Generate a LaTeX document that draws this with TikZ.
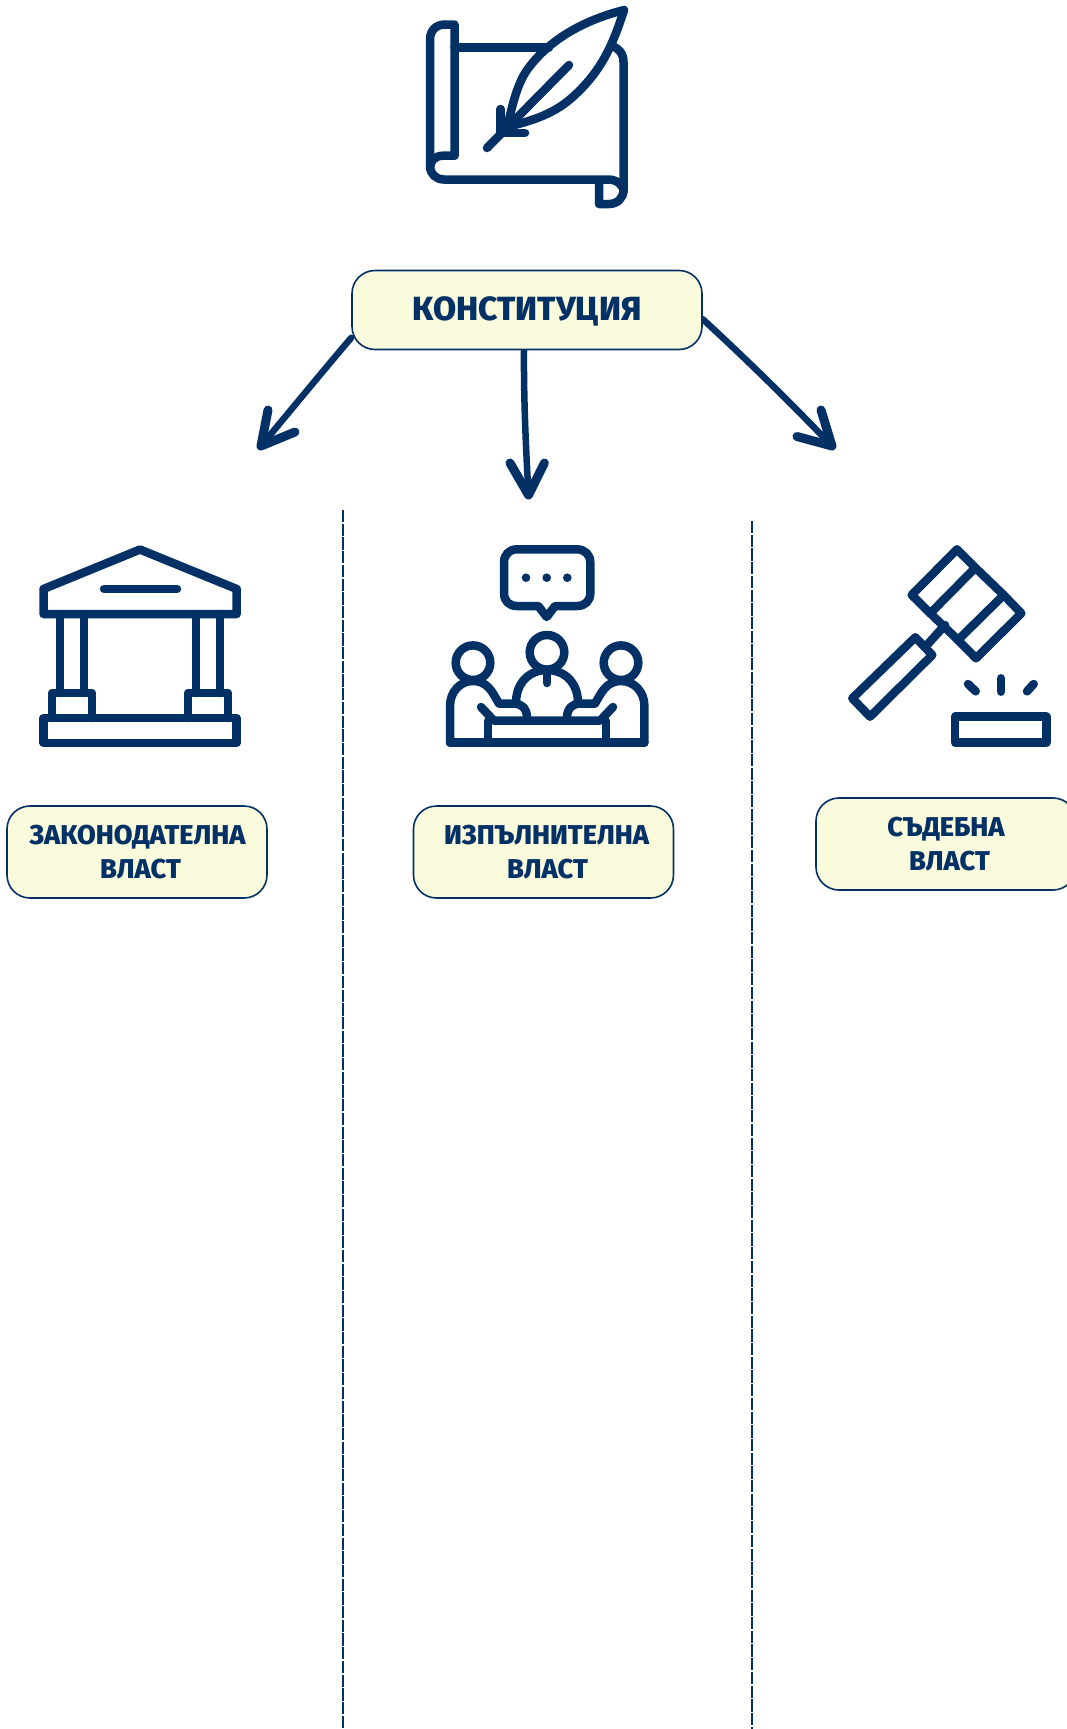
\documentclass[tikz,border=0pt]{standalone}
\usepackage{fontspec}
\usetikzlibrary{backgrounds}
\setmainfont{Fira Sans}[BoldFont={Fira Sans ExtraBold},Language=Bulgarian]
\definecolor{navy}{HTML}{033166}
\definecolor{cream}{HTML}{FAFADC}
\tikzset{
  icon/.style={draw=navy,line width=8.5pt,line cap=round,line join=round},
  labelbox/.style={draw=navy,line width=1.6pt,fill=cream,rounded corners=23pt,minimum width=260pt,minimum height=92pt,text=navy,font=\bfseries\fontsize{27.2}{34.5}\selectfont,align=center,inner sep=0pt},
  mainbox/.style={labelbox,minimum width=350pt,minimum height=79pt,font=\bfseries\fontsize{33.5}{34}\selectfont,text height=20pt,text depth=0pt},
  conn/.style={draw=navy,line width=6.5pt,line cap=round},
  head/.style={draw=navy,line width=9pt,line cap=round,line join=round},
  divider/.style={draw=navy,line width=1.8pt,dash pattern=on 12.3pt off 1.4pt}
}
\begin{document}
\begin{tikzpicture}[x=1pt,y=-1pt]
\useasboundingbox (0,0) rectangle (1066,1729);
% scroll
\draw[icon] (454.5,47.7) -- (549,47.7);
\draw[icon] (454.5,155.7) -- (454.5,24.5) -- (445,24.5) .. controls (436,24.5) and (430,30.5) .. (430,39.5) -- (430,166) .. controls (430,174) and (436,179.5) .. (444,179.5) -- (608,179.5) .. controls (616,179.5) and (623.5,184) .. (623.5,192);
\draw[icon] (454.5,155.7) -- (443,155.7) .. controls (435,155.7) and (430,161) .. (430,168);
\draw[icon] (612,46) .. controls (618,48) and (623.5,53) .. (623.5,62) -- (623.5,190) .. controls (623.5,198) and (617.5,204) .. (609,204) -- (599,204) -- (599,181);
% feather
\draw[icon] (624,10) .. controls (585,20) and (552,38) .. (530,66) .. controls (517,82) and (513,104) .. (507,127) .. controls (530,121) and (555,115) .. (577,93) .. controls (600,71) and (612,48) .. (624,10) -- cycle;
\draw[icon] (569,65) -- (487,148);
\draw[icon] (500.7,109) -- (500.7,133) -- (525,133);
% column building
\draw[icon] (43.5,614) -- (43.5,589) -- (140,549.5) -- (236.7,589) -- (236.7,614) -- cycle;
\draw[icon] (104,589) -- (177,589);
\draw[icon] (60,614) -- (60,693) (84,614) -- (84,693) (196,614) -- (196,693) (220,614) -- (220,693);
\draw[icon] (52,718) -- (52,693) -- (92,693) -- (92,718);
\draw[icon] (188,718) -- (188,693) -- (228,693) -- (228,718);
\draw[icon] (43.5,718) rectangle (236.7,743);
% meeting
\draw[icon] (517,549.3) -- (577,549.3) .. controls (585,549.3) and (590.3,555) .. (590.3,562.3) -- (590.3,593) .. controls (590.3,601) and (585,606) .. (577,606) -- (555,606) -- (546.7,617) -- (538.3,606) -- (517,606) .. controls (509,606) and (504,601) .. (504,593) -- (504,562.3) .. controls (504,555) and (509,549.3) .. (517,549.3) -- cycle;
\fill[navy] (526,577.7) circle (4.3) (546.7,577.7) circle (4.3) (567.3,577.7) circle (4.3);
\draw[icon] (547,652.3) circle (17.3) (473,662.7) circle (17.3) (621,662.7) circle (17.3);
\draw[icon] (450,742.7) -- (644.4,742.7);
\draw[icon] (450,742.7) -- (450,706) .. controls (450,692) and (460,681) .. (473,681) .. controls (484,681) and (490,688) .. (494,695) -- (499,703.5) -- (514,703.5) .. controls (521,703.5) and (527,708) .. (527,718);
\draw[icon] (644.4,742.7) -- (644.4,706) .. controls (644.4,692) and (634.4,681) .. (621,681) .. controls (610,681) and (604,688) .. (600,695) -- (595,703.5) -- (580,703.5) .. controls (573,703.5) and (567,708) .. (567,718);
\draw[icon] (516,703) .. controls (516,682) and (530,670) .. (547,670) .. controls (564,670) and (578,682) .. (578,703);
\draw[icon] (547,670) -- (547,683);
\draw[icon] (481,707) -- (494,720.7) -- (600,720.7) -- (613,707);
\draw[icon] (488,721) -- (488,742.7) (606,721) -- (606,742.7);
% gavel
\draw[icon] (957,549.3) -- (975.3,567.7) -- (930.3,613.3) -- (911.7,595) -- cycle;
\draw[icon] (1003.7,595) -- (1021.3,613.3) -- (976,658.3) -- (958,640) -- cycle;
\draw[icon] (975.3,567.7) -- (1003.7,595) (930.3,613.3) -- (958,640);
\draw[icon] (915.3,637.3) -- (932.3,655) -- (870,716.7) -- (852.3,698.3) -- cycle;
\draw[icon] (927,645) -- (945,625);
\draw[icon] (968,684) -- (975.7,691.3);
\draw[icon] (1001,678.3) -- (1001,691.7);
\draw[icon] (1033.7,684) -- (1027,691.3);
\draw[icon] (955,716.7) rectangle (1046.5,742.7);
% dividers
\coordinate (d1a) at (343.3,510); \coordinate (d1b) at (343.3,1729);
\coordinate (d2a) at (751.6,521); \coordinate (d2b) at (751.6,1729);
\draw[divider] (d1a) -- (d1b);
\draw[divider] (d2a) -- (d2b);
% boxes
\node[mainbox] (main) at (527,310) {КОНСТИТУЦИЯ};
\node[labelbox] (leg) at (137,852) {\hspace*{1pt}ЗАКОНОДАТЕЛНА\\\hspace*{7pt}ВЛАСТ};
\node[labelbox] (exe) at (543.5,852) {\hspace*{6pt}ИЗПЪЛНИТЕЛНА\\\hspace*{8pt}ВЛАСТ};
\node[labelbox] (jud) at (946,844) {СЪДЕБНА\\\hspace*{7pt}ВЛАСТ};
% arrows
\coordinate (t1) at (261,446); \coordinate (b1a) at (268,410); \coordinate (b1b) at (295,432);
\coordinate (t2) at (528.5,495); \coordinate (b2a) at (510,463); \coordinate (b2b) at (544.4,463);
\coordinate (t3) at (832,446); \coordinate (b3a) at (821,410); \coordinate (b3b) at (797,436.5);
\begin{pgfonlayer}{background}
\draw[conn] (main.189) .. controls (328,365) and (295,405) .. (t1);
\draw[conn] ([xshift=-3pt]main.south) .. controls (523.6,400) and (526,450) .. (t2);
\draw[conn] (main.-3.3) .. controls (745,358) and (790,402) .. (t3);
\end{pgfonlayer}
\draw[head] (b1a) -- (t1) -- (b1b);
\draw[head] (b2a) -- (t2) -- (b2b);
\draw[head] (b3a) -- (t3) -- (b3b);
\end{tikzpicture}
\end{document}
